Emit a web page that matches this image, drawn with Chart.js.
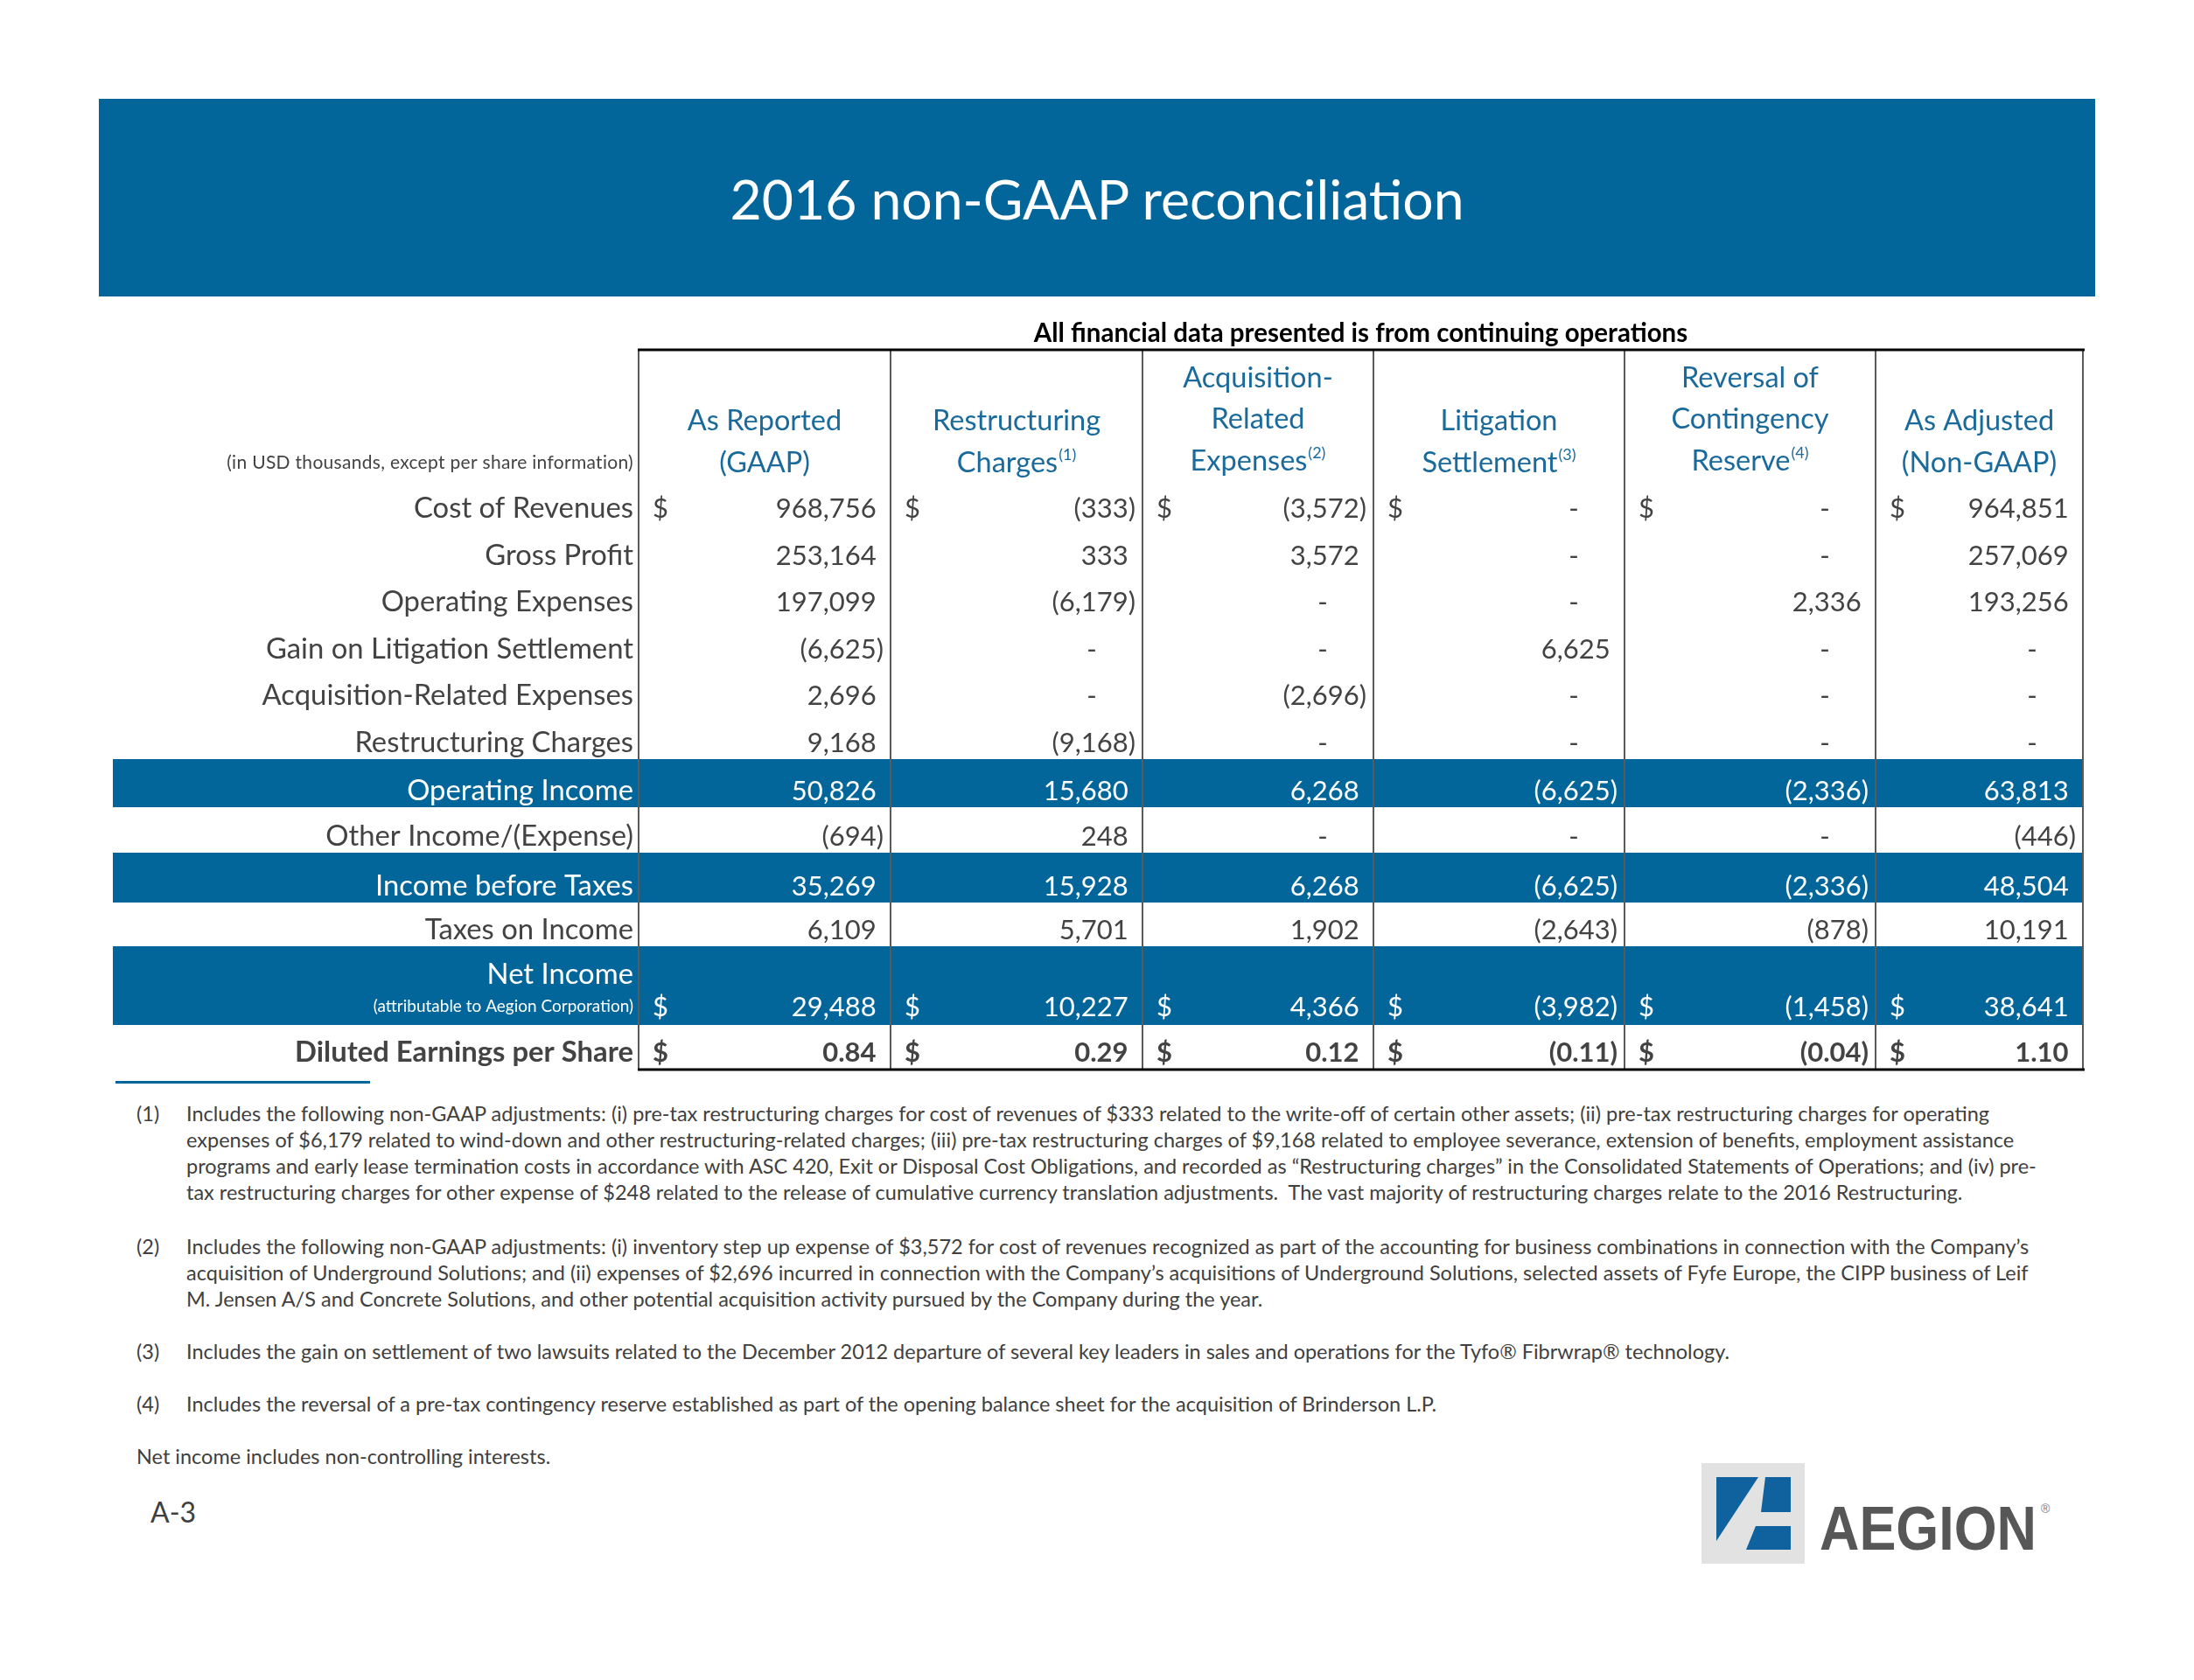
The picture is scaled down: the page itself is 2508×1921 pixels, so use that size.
<!DOCTYPE html>
<html>
<head>
<meta charset="utf-8">
<script src="https://cdn.jsdelivr.net/npm/chart.js@4.4.1/dist/chart.umd.min.js"></script>
<style>
  html, body { margin: 0; padding: 0; background: #ffffff; }
  body { width: 2508px; height: 1921px; position: relative; overflow: hidden; font-family: Lato, "Open Sans", sans-serif; color: #404040; }
  #band { position: absolute; left: 113px; top: 113px; width: 2282px; height: 226px; background: #02669B;
          display: flex; align-items: center; justify-content: center; }
  #title { color: #ffffff; font-size: 62.5px; font-family: Lato, sans-serif; white-space: nowrap; }
  #c { position: absolute; left: 120px; top: 360px; }
  #rule { position: absolute; left: 132px; top: 1236px; width: 291px; height: 3px; background: #02669B; }
  .fn { position: absolute; left: 156px; font-size: 23.5px; line-height: 30px; color: #404040; white-space: nowrap; }
  .fn .num { position: absolute; left: 0; top: 0; }
  .fn .txt { position: absolute; left: 57px; top: 0; }
  #page { position: absolute; left: 172px; top: 1709px; font-size: 32px; color: #404040; }
  #logo { position: absolute; left: 1940px; top: 1668px; }
</style>
</head>
<body>
<div id="band"><div id="title">2016 non-GAAP reconciliation</div></div>
<canvas id="c" width="2280" height="880"></canvas>
<div id="rule"></div>

<div class="fn" style="top:1258px"><span class="num">(1)</span><div class="txt">
<div>Includes the following non-GAAP adjustments: (i) pre-tax restructuring charges for cost of revenues of $333 related to the write-off of certain other assets; (ii) pre-tax restructuring charges for operating</div>
<div>expenses of $6,179 related to wind-down and other restructuring-related charges; (iii) pre-tax restructuring charges of $9,168 related to employee severance, extension of benefits, employment assistance</div>
<div>programs and early lease termination costs in accordance with ASC 420, Exit or Disposal Cost Obligations, and recorded as “Restructuring charges” in the Consolidated Statements of Operations; and (iv) pre-</div>
<div>tax restructuring charges for other expense of $248 related to the release of cumulative currency translation adjustments.&nbsp; The vast majority of restructuring charges relate to the 2016 Restructuring.</div>
</div></div>
<div class="fn" style="top:1410px"><span class="num">(2)</span><div class="txt">
<div>Includes the following non-GAAP adjustments: (i) inventory step up expense of $3,572 for cost of revenues recognized as part of the accounting for business combinations in connection with the Company’s</div>
<div>acquisition of Underground Solutions; and (ii) expenses of $2,696 incurred in connection with the Company’s acquisitions of Underground Solutions, selected assets of Fyfe Europe, the CIPP business of Leif</div>
<div>M. Jensen A/S and Concrete Solutions, and other potential acquisition activity pursued by the Company during the year.</div>
</div></div>
<div class="fn" style="top:1530px"><span class="num">(3)</span><div class="txt">
<div>Includes the gain on settlement of two lawsuits related to the December 2012 departure of several key leaders in sales and operations for the Tyfo® Fibrwrap® technology.</div>
</div></div>
<div class="fn" style="top:1590px"><span class="num">(4)</span><div class="txt">
<div>Includes the reversal of a pre-tax contingency reserve established as part of the opening balance sheet for the acquisition of Brinderson L.P.</div>
</div></div>
<div class="fn" style="top:1650px">Net income includes non-controlling interests.</div>
<div id="page">A-3</div>

<svg id="logo" width="430" height="130" viewBox="0 0 430 130">
  <rect x="5" y="5" width="118" height="115" fill="#E2E2E2"/>
  <polygon points="22,21 70,21 22,94" fill="#10629E"/>
  <polygon points="78,21 107,21 107,61 73,61" fill="#10629E"/>
  <polygon points="67,77 107,77 107,104 56,104" fill="#10629E"/>
  <text x="140" y="104" font-family="'Liberation Sans Narrow', 'Liberation Sans', sans-serif" font-weight="700" font-size="70" fill="#575757" textLength="248" lengthAdjust="spacingAndGlyphs">AEGION</text>
  <text x="393" y="62" font-family="'Liberation Sans', sans-serif" font-size="14" fill="#777">®</text>
</svg>

<script>
// ---------------- DATA ----------------
const rowLabels = [
  "Cost of Revenues", "Gross Profit", "Operating Expenses", "Gain on Litigation Settlement",
  "Acquisition-Related Expenses", "Restructuring Charges", "Operating Income",
  "Other Income/(Expense)", "Income before Taxes", "Taxes on Income", "Net Income",
  "Diluted Earnings per Share"
];
const rowSubLabels = ["", "", "", "", "", "", "", "", "", "", "(attributable to Aegion Corporation)", ""];
const columnHeaders = [
  ["As Reported", "(GAAP)"],
  ["Restructuring", "Charges"],
  ["Acquisition-", "Related", "Expenses"],
  ["Litigation", "Settlement"],
  ["Reversal of", "Contingency", "Reserve"],
  ["As Adjusted", "(Non-GAAP)"]
];
const headerNotes = ["", "(1)", "(2)", "(3)", "(4)", ""];
const unitsNote = "(in USD thousands, except per share information)";
const subtitle = "All financial data presented is from continuing operations";

const asReported    = [968756, 253164, 197099, -6625, 2696, 9168, 50826, -694, 35269, 6109, 29488, 0.84];
const restructuring = [-333, 333, -6179, null, null, -9168, 15680, 248, 15928, 5701, 10227, 0.29];
const acquisition   = [-3572, 3572, null, null, -2696, null, 6268, null, 6268, 1902, 4366, 0.12];
const litigation    = [null, null, null, 6625, null, null, -6625, null, -6625, -2643, -3982, -0.11];
const reversal      = [null, null, 2336, null, null, null, -2336, null, -2336, -878, -1458, -0.04];
const asAdjusted    = [964851, 257069, 193256, null, null, null, 63813, -446, 48504, 10191, 38641, 1.10];

const dollarRows = [0, 10, 11];
const highlightRows = [6, 8, 10];
const boldRows = [11];
const perShareRows = [11];

// ---------------- LAYOUT (canvas units) ----------------
const L = {
  W: 2280, H: 880,
  colEdges: [610, 898, 1186, 1450, 1737, 2024, 2261],
  labelRight: 604,
  bandLeft: 9,
  topRule: 40, bottomRule: 863,
  rowBottoms: [240, 294, 347, 401, 454, 508, 563, 615, 672, 722, 812, 863],
  header2: [121, 169], header3: [72, 119, 167],
  subtitleY: 21
};
const FONT = "Lato, 'Open Sans', sans-serif";
const C = { band: "#02669B", head: "#1A6A9B", text: "#434343", grid: "#5a5a5a" };

function valueBaseline(i) {
  if (i === 10) return L.rowBottoms[i] - 10;
  if (i === 11) return L.rowBottoms[i] - 9;
  return L.rowBottoms[i] - 8;
}
function fmt(v, dec) {
  const s = Math.abs(v).toLocaleString('en-US', { minimumFractionDigits: dec, maximumFractionDigits: dec });
  return v < 0 ? '(' + s + ')' : s;
}

const seriesList = [asReported, restructuring, acquisition, litigation, reversal, asAdjusted];
const datasets = seriesList.map((vals, c) => ({
  label: columnHeaders[c].join(' '),
  data: vals.map((v, i) => ({ x: L.colEdges[c + 1], y: valueBaseline(i), v: v })),
  pointRadius: 0,
  showLine: false
}));

const tablePlugin = {
  id: 'tablePlugin',
  beforeDatasetsDraw(chart) {
    const ctx = chart.ctx, xs = chart.scales.x, ys = chart.scales.y;
    const X = v => xs.getPixelForValue(v), Y = v => ys.getPixelForValue(v);
    ctx.save();
    // highlight bands
    ctx.fillStyle = C.band;
    highlightRows.forEach(r => {
      const top = L.rowBottoms[r - 1], bot = L.rowBottoms[r];
      ctx.fillRect(X(L.bandLeft), Y(top), X(L.colEdges[6] + 1) - X(L.bandLeft), Y(bot) - Y(top));
    });
    // subtitle
    ctx.fillStyle = '#000';
    ctx.font = '700 29.5px ' + FONT;
    ctx.textAlign = 'center';
    ctx.textBaseline = 'alphabetic';
    ctx.fillText(subtitle, X((L.colEdges[0] + L.colEdges[6]) / 2), Y(L.subtitleY + 10));
    // headers
    columnHeaders.forEach((lines, c) => {
      const cx = X((L.colEdges[c] + L.colEdges[c + 1]) / 2);
      const ys3 = lines.length === 3 ? L.header3 : L.header2;
      lines.forEach((t, k) => {
        const base = Y(ys3[k] + 11);
        ctx.font = '32.5px ' + FONT;
        ctx.fillStyle = C.head;
        const note = (k === lines.length - 1) ? headerNotes[c] : '';
        const wm = ctx.measureText(t).width;
        ctx.font = '18px ' + FONT;
        const wn = note ? ctx.measureText(note).width + 1 : 0;
        const x0 = cx - (wm + wn) / 2;
        ctx.textAlign = 'left';
        ctx.font = '32.5px ' + FONT;
        ctx.fillText(t, x0, base);
        if (note) { ctx.font = '18px ' + FONT; ctx.fillText(note, x0 + wm + 1, base - 14); }
      });
    });
    // units note
    ctx.font = '21px ' + FONT;
    ctx.fillStyle = C.text;
    ctx.textAlign = 'right';
    if ('letterSpacing' in ctx) ctx.letterSpacing = '0.3px';
    ctx.fillText(unitsNote, X(L.labelRight), Y(L.header2[1] + 7));
    if ('letterSpacing' in ctx) ctx.letterSpacing = '0px';
    // row labels
    rowLabels.forEach((lab, i) => {
      const hl = highlightRows.includes(i);
      ctx.fillStyle = hl ? '#ffffff' : C.text;
      ctx.textAlign = 'right';
      ctx.font = (boldRows.includes(i) ? '700 ' : '') + '32.8px ' + FONT;
      if (rowSubLabels[i]) {
        ctx.fillText(lab, X(L.labelRight), Y(L.rowBottoms[i] - 47));
        ctx.font = '19px ' + FONT;
        ctx.fillText(rowSubLabels[i], X(L.labelRight), Y(L.rowBottoms[i] - 15));
      } else {
        ctx.fillText(lab, X(L.labelRight), Y(valueBaseline(i)));
      }
    });
    ctx.restore();
  },
  afterDatasetsDraw(chart) {
    const ctx = chart.ctx, xs = chart.scales.x, ys = chart.scales.y;
    const X = v => xs.getPixelForValue(v), Y = v => ys.getPixelForValue(v);
    ctx.save();
    chart.data.datasets.forEach((ds, c) => {
      const meta = chart.getDatasetMeta(c);
      const left = X(L.colEdges[c]);
      meta.data.forEach((pt, i) => {
        const v = ds.data[i].v;
        const hl = highlightRows.includes(i);
        ctx.fillStyle = hl ? '#ffffff' : C.text;
        ctx.font = (boldRows.includes(i) ? '700 ' : '') + '31px ' + FONT;
        ctx.textBaseline = 'alphabetic';
        const right = pt.x - 8;
        const pw = ctx.measureText(')').width;
        if (dollarRows.includes(i)) {
          ctx.textAlign = 'left';
          ctx.fillText('$', left + 16, pt.y);
        }
        if (v === null) {
          ctx.textAlign = 'center';
          ctx.fillText('-', pt.x - 58, pt.y);
        } else {
          const s = fmt(v, perShareRows.includes(i) ? 2 : 0);
          ctx.textAlign = 'right';
          ctx.fillText(s, v < 0 ? right : right - pw, pt.y);
        }
      });
    });
    // grid lines
    ctx.strokeStyle = C.grid;
    ctx.lineWidth = 2;
    L.colEdges.forEach(e => {
      ctx.beginPath();
      ctx.moveTo(X(e), Y(L.topRule));
      ctx.lineTo(X(e), Y(L.bottomRule));
      ctx.stroke();
    });
    ctx.strokeStyle = '#000';
    ctx.lineWidth = 3;
    [L.topRule, L.bottomRule].forEach(yv => {
      ctx.beginPath();
      ctx.moveTo(X(L.colEdges[0]) - 1, Y(yv));
      ctx.lineTo(X(L.colEdges[6]) + 2, Y(yv));
      ctx.stroke();
    });
    ctx.restore();
  }
};

function build() {
  new Chart(document.getElementById('c').getContext('2d'), {
    type: 'scatter',
    data: { datasets },
    options: {
      responsive: false,
      animation: false,
      events: [],
      layout: { padding: 0 },
      plugins: { legend: { display: false }, tooltip: { enabled: false } },
      scales: {
        x: { type: 'linear', display: false, min: 0, max: L.W },
        y: { type: 'linear', display: false, min: 0, max: L.H, reverse: true }
      }
    },
    plugins: [tablePlugin]
  });
}
if (document.fonts && document.fonts.load) {
  Promise.all([document.fonts.load('31px Lato'), document.fonts.load('700 31px Lato')]).then(build, build);
} else { build(); }
</script>
</body>
</html>
